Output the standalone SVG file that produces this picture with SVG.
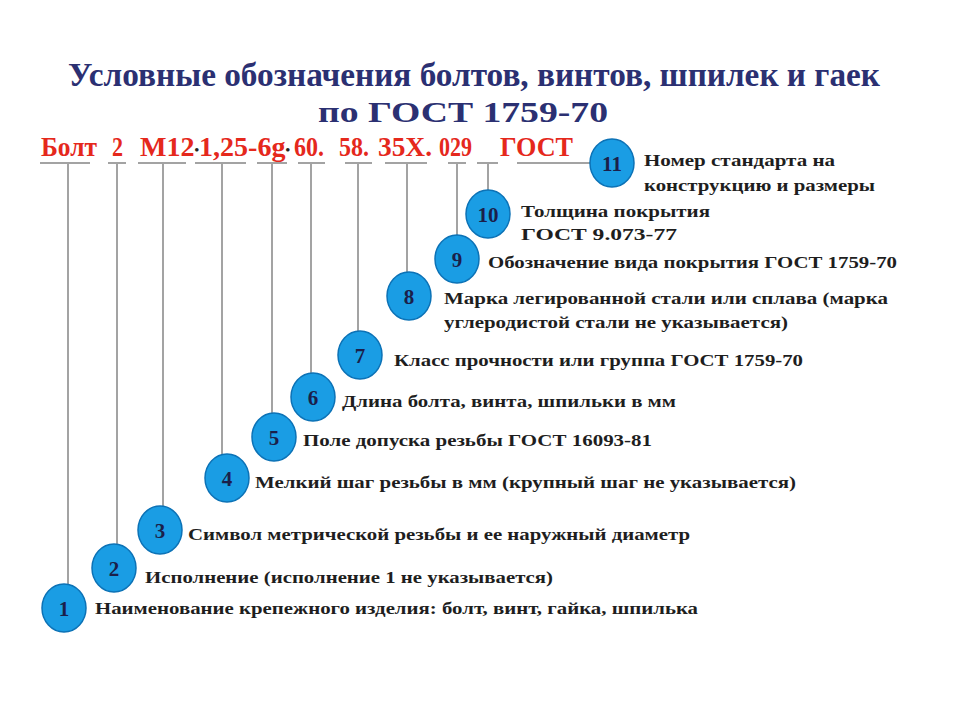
<svg xmlns="http://www.w3.org/2000/svg" width="960" height="720" viewBox="0 0 960 720">
<style>
.title{font-family:"Liberation Serif","Times New Roman",serif;font-weight:bold;fill:#2b3072}
.red{font-family:"Liberation Serif","Times New Roman",serif;font-weight:bold;font-size:28px;fill:#e5281c}
.dot{font-size:13px;fill:#222}
.lbl{font-family:"Liberation Serif","Times New Roman",serif;font-weight:bold;font-size:17px;fill:#1e1e1e}
.num{font-family:"Liberation Serif","Times New Roman",serif;font-weight:bold;font-size:21px;fill:#1b1f4a;text-anchor:middle}
.c{fill:#1a9de4;stroke:#0c72b6;stroke-width:1.5}
.ln{stroke:#a3a3a3;stroke-width:2;fill:none}
</style>
<rect width="960" height="720" fill="#ffffff"/>
<g id="title">
<text class="title" x="68" y="86" font-size="33" textLength="812" lengthAdjust="spacingAndGlyphs">Условные обозначения болтов, винтов, шпилек и гаек</text>
<text class="title" x="318" y="122" font-size="30" textLength="290" lengthAdjust="spacingAndGlyphs">по ГОСТ 1759-70</text>
</g>
<g id="designation">
<text class="red" x="41" y="156" textLength="56" lengthAdjust="spacingAndGlyphs">Болт</text>
<text class="red" x="112" y="156" textLength="11" lengthAdjust="spacingAndGlyphs">2</text>
<text class="red" x="140" y="156" textLength="150" lengthAdjust="spacingAndGlyphs">М12<tspan class="dot" dy="-2">•</tspan><tspan dy="2">1,25-6g</tspan><tspan class="dot" dy="-2">•</tspan></text>
<text class="red" x="294" y="156" textLength="30" lengthAdjust="spacingAndGlyphs">60.</text>
<text class="red" x="339" y="156" textLength="30" lengthAdjust="spacingAndGlyphs">58.</text>
<text class="red" x="378" y="156" textLength="54" lengthAdjust="spacingAndGlyphs">35X.</text>
<text class="red" x="439" y="156" textLength="33" lengthAdjust="spacingAndGlyphs">029</text>
<text class="red" x="500" y="156" textLength="73" lengthAdjust="spacingAndGlyphs">ГОСТ</text>
</g>
<g id="connectors">
<path class="ln" d="M40 163H90 M108 163H126 M138 163H186 M195 163H246 M257 163H287 M298 163H325 M345 163H372 M385 163H427 M448 163H466 M477 163H498 M517 163H591"/>
<path class="ln" d="M68 163V585 M117 163V545 M163 163V507 M222 163V456 M272 163V414 M311 163V374 M358 163V332 M407 163V273 M457 163V236 M488 163V191"/>
</g>
<g id="n1"><ellipse class="c" cx="64" cy="608" rx="22" ry="24"/><text class="num" x="64" y="616">1</text>
<text class="lbl" x="95" y="614" textLength="603" lengthAdjust="spacingAndGlyphs">Наименование крепежного изделия: болт, винт, гайка, шпилька</text></g>
<g id="n2"><ellipse class="c" cx="114" cy="568" rx="22" ry="24"/><text class="num" x="114" y="576">2</text>
<text class="lbl" x="145" y="583" textLength="408" lengthAdjust="spacingAndGlyphs">Исполнение (исполнение 1 не указывается)</text></g>
<g id="n3"><ellipse class="c" cx="160" cy="530" rx="22" ry="24"/><text class="num" x="160" y="538">3</text>
<text class="lbl" x="188" y="540" textLength="502" lengthAdjust="spacingAndGlyphs">Символ метрической резьбы и ее наружный диаметр</text></g>
<g id="n4"><ellipse class="c" cx="227" cy="478" rx="22" ry="24"/><text class="num" x="227" y="486">4</text>
<text class="lbl" x="255" y="488" textLength="541" lengthAdjust="spacingAndGlyphs">Мелкий шаг резьбы в мм (крупный шаг не указывается)</text></g>
<g id="n5"><ellipse class="c" cx="274" cy="437" rx="22" ry="24"/><text class="num" x="274" y="445">5</text>
<text class="lbl" x="303" y="446" textLength="349" lengthAdjust="spacingAndGlyphs">Поле допуска резьбы ГОСТ 16093-81</text></g>
<g id="n6"><ellipse class="c" cx="313" cy="397" rx="22" ry="24"/><text class="num" x="313" y="405">6</text>
<text class="lbl" x="342" y="407" textLength="334" lengthAdjust="spacingAndGlyphs">Длина болта, винта, шпильки в мм</text></g>
<g id="n7"><ellipse class="c" cx="360" cy="355" rx="22" ry="24"/><text class="num" x="360" y="363">7</text>
<text class="lbl" x="394" y="366" textLength="409" lengthAdjust="spacingAndGlyphs">Класс прочности или группа ГОСТ 1759-70</text></g>
<g id="n8"><ellipse class="c" cx="409" cy="296" rx="22" ry="24"/><text class="num" x="409" y="304">8</text>
<text class="lbl" x="444" y="304" textLength="444" lengthAdjust="spacingAndGlyphs">Марка легированной стали или сплава (марка</text>
<text class="lbl" x="444" y="328" textLength="344" lengthAdjust="spacingAndGlyphs">углеродистой стали не указывается)</text></g>
<g id="n9"><ellipse class="c" cx="457" cy="259" rx="22" ry="24"/><text class="num" x="457" y="267">9</text>
<text class="lbl" x="488" y="268" textLength="409" lengthAdjust="spacingAndGlyphs">Обозначение вида покрытия ГОСТ 1759-70</text></g>
<g id="n10"><ellipse class="c" cx="488" cy="214" rx="22" ry="24"/><text class="num" x="488" y="222">10</text>
<text class="lbl" x="521" y="217" textLength="189" lengthAdjust="spacingAndGlyphs">Толщина покрытия</text>
<text class="lbl" x="521" y="240" textLength="156" lengthAdjust="spacingAndGlyphs">ГОСТ 9.073-77</text></g>
<g id="n11"><ellipse class="c" cx="612" cy="163" rx="22" ry="24"/><text class="num" x="612" y="171">11</text>
<text class="lbl" x="644" y="166" textLength="191" lengthAdjust="spacingAndGlyphs">Номер стандарта на</text>
<text class="lbl" x="644" y="191" textLength="231" lengthAdjust="spacingAndGlyphs">конструкцию и размеры</text></g>
</svg>
